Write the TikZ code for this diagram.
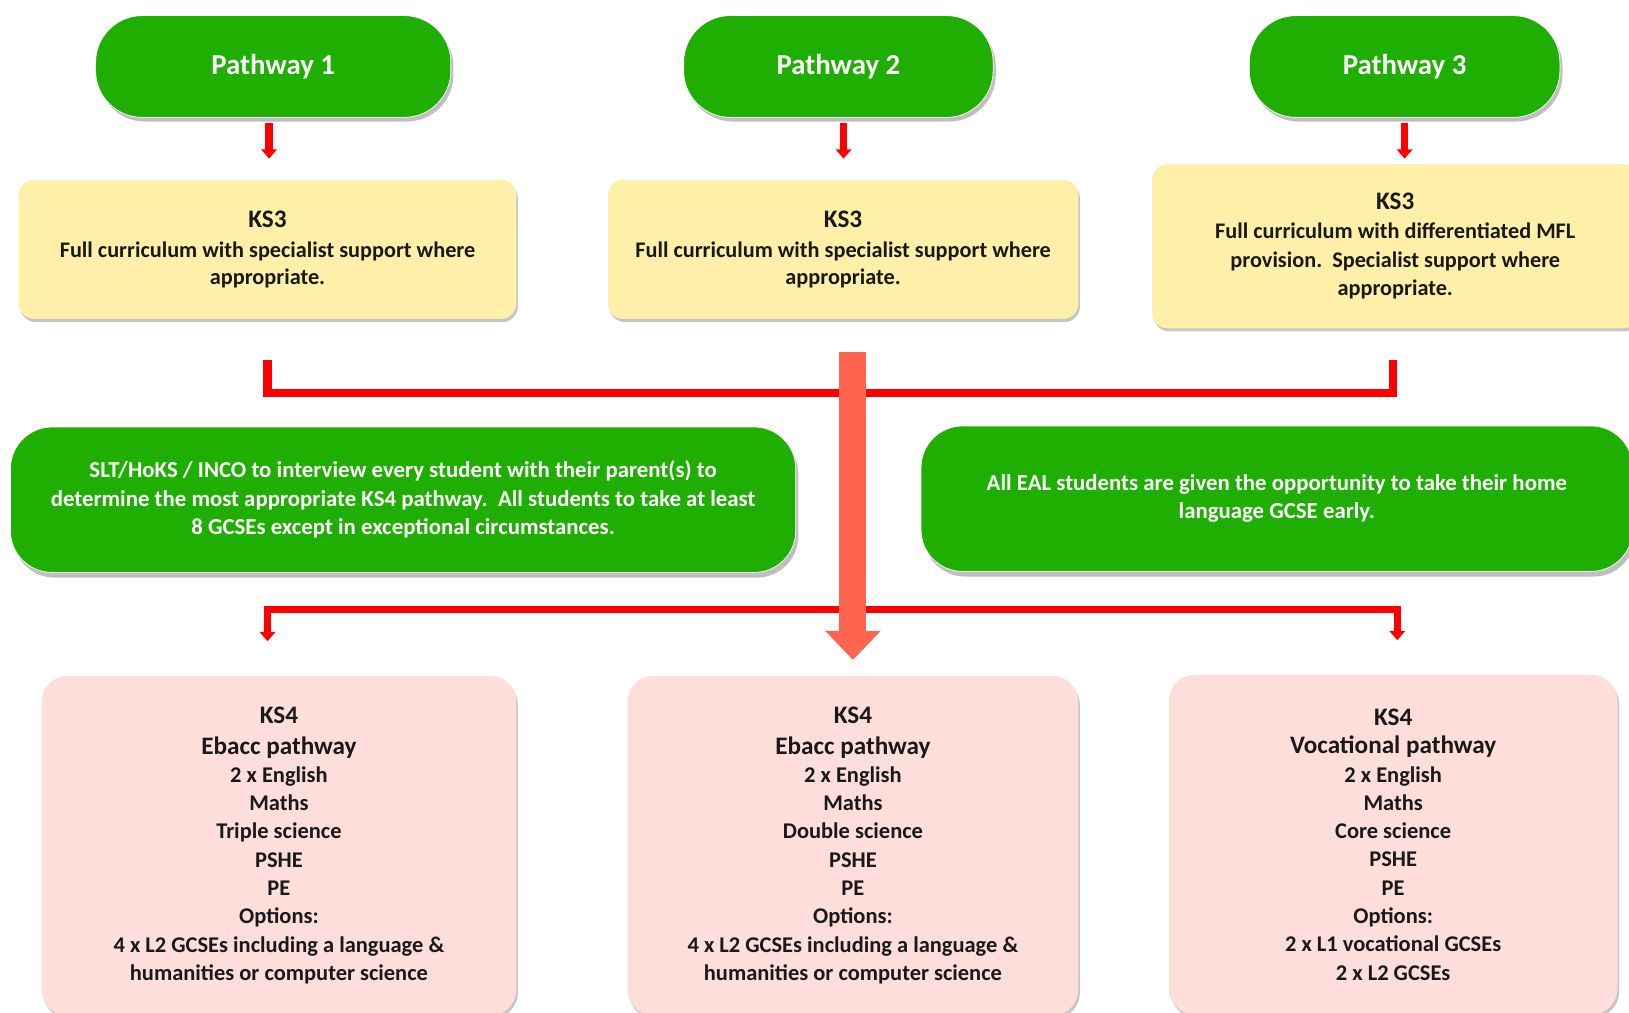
\documentclass[tikz,border=0pt]{standalone}
\usepackage{fontspec}
\setmainfont{Carlito}
\usepackage{tikz}
\usetikzlibrary{arrows.meta,positioning,calc,shadows}
\definecolor{pathgreen}{HTML}{1FAE02}
\definecolor{ks3yellow}{HTML}{FEF0A9}
\definecolor{ks4pink}{HTML}{FDDEDB}
\definecolor{linkred}{HTML}{FF0000}
\definecolor{bigarrow}{HTML}{FF6450}
\tikzset{
    %Define style for the green pathway pills
    pill/.style={
           rectangle, rounded corners=0.9cm, fill=pathgreen, draw=white, thin,
           minimum height=1.96cm, text=white, align=center,
           font=\bfseries\fontsize{15.8}{18}\selectfont,
           drop shadow={shadow xshift=0.05cm, shadow yshift=-0.08cm, opacity=0.5}},
    %Define style for the green notes
    note/.style={
           rectangle, rounded corners=0.8cm, fill=pathgreen, draw=white, thin,
           minimum height=2.8cm, text=white, align=center,
           font=\bfseries\fontsize{12.5}{15.6}\selectfont,
           drop shadow={shadow xshift=0.05cm, shadow yshift=-0.1cm, opacity=0.5}},
    %Define style for the KS3 boxes
    ks3box/.style={
           rectangle, rounded corners=0.3cm, fill=ks3yellow, align=center,
           text=black!90, font=\bfseries\fontsize{12.2}{14.8}\selectfont,
           drop shadow={shadow xshift=0.03cm, shadow yshift=-0.06cm, opacity=0.45}},
    %Define style for the KS4 boxes
    ks4box/.style={
           rectangle, rounded corners=0.5cm, fill=ks4pink, align=center,
           minimum height=6.54cm, text=black!90,
           font=\bfseries\fontsize{12.3}{15.5}\selectfont,
           drop shadow={shadow xshift=0.03cm, shadow yshift=-0.06cm, opacity=0.45}},
    % Define arrow styles
    pil/.style={
           -{Triangle[width=0.3cm, length=0.18cm]},
           draw=linkred, line width=0.14cm},
    bracket/.style={
           draw=linkred, line width=0.16cm}
}
\newcommand{\head}[1]{{\fontsize{13.8}{15}\selectfont #1}}

\begin{document}
\begin{tikzpicture}[x=0.02cm, y=-0.02cm]
	\useasboundingbox (0,0) rectangle (1568,975);

	% pathway 1
	\node[pill, minimum width=6.84cm](p1-name) at (263,64){Pathway 1};
	\node[ks3box, minimum width=9.58cm, minimum height=2.68cm](p1-ks3) at (257.5,240)
	     {\head{KS3}\\[2pt]Full curriculum with specialist support where\\appropriate.};
	\node[ks4box, minimum width=9.14cm](p1-ks4) at (268.5,814)
	     {\head{KS4}\\[1pt]\head{Ebacc pathway}\\2 x English\\Maths\\Triple science\\PSHE\\PE\\Options:\\
	      4 x L2 GCSEs including a language \&\\humanities or computer science};

	% pathway 2
	\node[pill, minimum width=5.96cm](p2-name) at (807,64){Pathway 2};
	\node[ks3box, minimum width=9.06cm, minimum height=2.68cm](p2-ks3) at (811.5,240)
	     {\head{KS3}\\[2pt]Full curriculum with specialist support where\\appropriate.};
	\node[ks4box, minimum width=8.68cm](p2-ks4) at (821,814)
	     {\head{KS4}\\[1pt]\head{Ebacc pathway}\\2 x English\\Maths\\Double science\\PSHE\\PE\\Options:\\
	      4 x L2 GCSEs including a language \&\\humanities or computer science};

	% pathway 3
	\node[pill, minimum width=5.98cm](p3-name) at (1352,64){Pathway 3};
	\node[ks3box, minimum width=9.36cm, minimum height=3.16cm, yshift=-0.06cm,
	      font=\bfseries\fontsize{12.2}{15.8}\selectfont](p3-ks3) at (1343,234)
	     {\head{KS3}\\Full curriculum with differentiated MFL\\provision.\ \ Specialist support where\\appropriate.};
	\node[ks4box, minimum width=8.64cm](p3-ks4) at (1341,813)
	     {\head{KS4}\\\head{Vocational pathway}\\2 x English\\Maths\\Core science\\PSHE\\PE\\Options:\\
	      2 x L1 vocational GCSEs\\2 x L2 GCSEs};

	% notes
	\node[note, minimum width=15.12cm](interview) at (388,481)
	     {SLT/HoKS / INCO to interview every student with their parent(s) to\\
	      determine the most appropriate KS4 pathway.\ \ All students to take at least\\
	      8 GCSEs except in exceptional circumstances.};
	\node[note, minimum width=13.7cm](eal) at (1229,480)
	     {All EAL students are given the opportunity to take their home\\language GCSE early.};

	% pathway arrows
	\draw[pil, shorten <=0.1cm, shorten >=0.4cm] ([xshift=-0.08cm]p1-name.south) -- ([xshift=-0.08cm]p1-name.south |- p1-ks3.north);
	\draw[pil, shorten <=0.1cm, shorten >=0.4cm] ([xshift=0.1cm]p2-name.south) -- ([xshift=0.1cm]p2-name.south |- p2-ks3.north);
	\draw[pil, shorten <=0.1cm, shorten >=0.1cm] (p3-name) -- (p3-name |- p3-ks3.north);

	% brackets
	\draw[bracket] ([yshift=-0.78cm]p1-ks3.south) -- ++(0,32) -| ([xshift=-0.04cm, yshift=-0.6cm]p3-ks3.south);
	\coordinate (fork) at (820,587);
	\draw[bracket, pil] (fork) -| ([yshift=0.66cm]p1-ks3.south |- p1-ks4.north);
	\draw[bracket, pil] (fork) -| ([yshift=0.66cm, xshift=0.08cm]p3-ks4.north);

	% main arrow
	\draw[draw=bigarrow, line width=0.52cm, -{Triangle[width=1.04cm, length=0.56cm]},
	      shorten <=0.62cm, shorten >=0.3cm] (p2-ks4.north |- p2-ks3.south) -- (p2-ks4.north);
\end{tikzpicture}
\end{document}
